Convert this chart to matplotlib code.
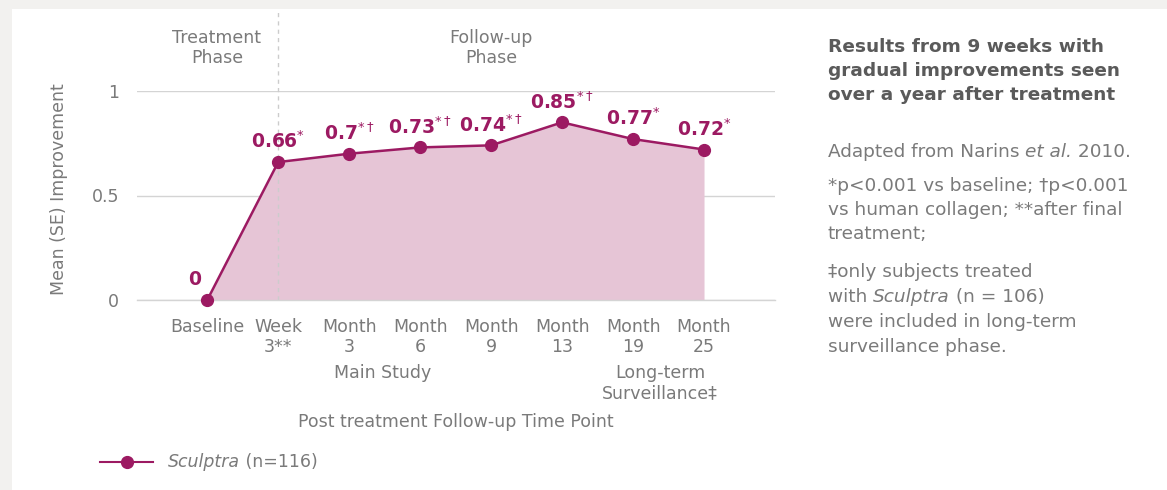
import matplotlib
matplotlib.use("Agg")
import matplotlib.pyplot as plt
from matplotlib.patches import Rectangle
from matplotlib.lines import Line2D

# data
time_points = ["Baseline", "Week\n3**", "Month\n3", "Month\n6", "Month\n9",
               "Month\n13", "Month\n19", "Month\n25"]
improvement = [0.0, 0.66, 0.70, 0.73, 0.74, 0.85, 0.77, 0.72]
value_text = ["0", "0.66", "0.7", "0.73", "0.74", "0.85", "0.77", "0.72"]
sig_marks = ["", "*", "*†", "*†", "*†", "*†", "*", "*"]

MAGENTA = "#9c1a62"
FILL = "#e6c5d6"
GRAY = "#7a7a7a"
DARK = "#5a5a5a"
GRID = "#d4d4d4"
FS = 12.5

plt.rcParams["font.family"] = ["DejaVu Sans"]
plt.rcParams["mathtext.fontset"] = "dejavusans"

W, H = 1167, 490
fig = plt.figure(figsize=(W / 100, H / 100), dpi=100)
fig.patch.set_facecolor("#f2f1ef")
# white panel
fig.patches.append(Rectangle((12 / W, 0), 1, 1 - 9 / H, transform=fig.transFigure,
                             facecolor="white", edgecolor="none", zorder=-10))

ax = fig.add_axes([137 / W, (H - 300) / H, (775 - 137) / W, 209 / H])
ax.set_facecolor("none")
x = list(range(len(time_points)))

ax.set_xlim(-0.99, 8.0)
ax.set_ylim(0, 1)
for s in ax.spines.values():
    s.set_visible(False)
ax.set_yticks([0, 0.5, 1])
ax.set_yticklabels(["0", "0.5", "1"])
ax.yaxis.grid(True, color=GRID, linewidth=1)
ax.set_axisbelow(True)
ax.tick_params(axis="y", length=0, pad=13, labelsize=FS, labelcolor=GRAY)
ax.set_xticks(x)
ax.set_xticklabels(time_points)
ax.tick_params(axis="x", length=0, pad=13, labelsize=FS, labelcolor=GRAY)
for lbl in ax.get_xticklabels():
    lbl.set_linespacing(1.15)
    lbl.set_verticalalignment("top")

ax.set_ylabel("Mean (SE) Improvement", fontsize=FS, color=GRAY, va="center")
ax.yaxis.set_label_coords(-0.122, 0.53)

# phase divider
ax.vlines(1, 0, 1.392, colors="#cccccc", linestyles=(0, (3, 3)), linewidth=1,
          clip_on=False, zorder=2)

ax.fill_between(x, improvement, 0, color=FILL, linewidth=0, zorder=1)
ax.axhline(0, color=GRID, linewidth=1, zorder=2, clip_on=False)
ax.plot(x, improvement, color=MAGENTA, linewidth=1.8, marker="o", markersize=8.5,
        clip_on=False, zorder=3)

for i, (xi, yi) in enumerate(zip(x, improvement)):
    marks = sig_marks[i].replace("†", r"\dagger")
    t = r"$\mathbf{%s}$" % value_text[i]
    if marks:
        t = r"$\mathbf{%s}^{%s}$" % (value_text[i], marks)
    off = (-9, 8) if i == 0 else (0, 7)
    ax.annotate(t, (xi, yi), xytext=off, textcoords="offset points",
                ha="center", va="bottom", fontsize=13.5, color=MAGENTA)


def figtext(px, py, s, **kw):
    return fig.text(px / W, 1 - py / H, s, **kw)


def runs(px, py, parts, **kw):
    # consecutive text runs on one line, e.g. regular + italic
    renderer = fig.canvas.get_renderer()
    cur = px
    for s, style in parts:
        t = figtext(cur, py, s, style=style, ha="left", va="center", **kw)
        bb = t.get_window_extent(renderer)
        cur += bb.width


figtext(217, 48, "Treatment\nPhase", ha="center", va="center", fontsize=FS,
        color=GRAY, linespacing=1.1)
figtext(491, 48, "Follow-up\nPhase", ha="center", va="center", fontsize=FS,
        color=GRAY, linespacing=1.1)

figtext(383, 373, "Main Study", ha="center", va="center", fontsize=FS, color=GRAY)
figtext(660, 383, "Long-term\nSurveillance\u2021", ha="center", va="center", fontsize=FS,
        color=GRAY, linespacing=1.1)
figtext(456, 422, "Post treatment Follow-up Time Point", ha="center", va="center",
        fontsize=FS, color=GRAY)

# legend
fig.lines.append(Line2D([100 / W, 153 / W], [1 - 462 / H] * 2, transform=fig.transFigure,
                        color=MAGENTA, linewidth=1.5))
fig.lines.append(Line2D([127 / W], [1 - 462 / H], transform=fig.transFigure,
                        color=MAGENTA, marker="o", markersize=8.5))
runs(168, 462, [("Sculptra", "italic"), (" (n=116)", "normal")], fontsize=FS, color=GRAY)

# side notes
NS = 13.3
LS = 1.45
figtext(828, 71, "Results from 9 weeks with\ngradual improvements seen\nover a year after treatment",
        ha="left", va="center", fontsize=NS, fontweight="bold", color=DARK, linespacing=LS)
runs(828, 152, [("Adapted from Narins ", "normal"), ("et al.", "italic"), (" 2010.", "normal")],
     fontsize=NS, color=GRAY)
figtext(828, 210, "*p<0.001 vs baseline; \u2020p<0.001\nvs human collagen; **after final\ntreatment;",
        ha="left", va="center", fontsize=NS, color=GRAY, linespacing=LS)
figtext(828, 272, "\u2021only subjects treated", ha="left", va="center", fontsize=NS, color=GRAY)
runs(828, 297, [("with ", "normal"), ("Sculptra", "italic"), (" (n = 106)", "normal")],
     fontsize=NS, color=GRAY)
figtext(828, 334.5, "were included in long-term\nsurveillance phase.", ha="left", va="center",
        fontsize=NS, color=GRAY, linespacing=LS)

fig.savefig("out.png", dpi=100, facecolor=fig.get_facecolor())
